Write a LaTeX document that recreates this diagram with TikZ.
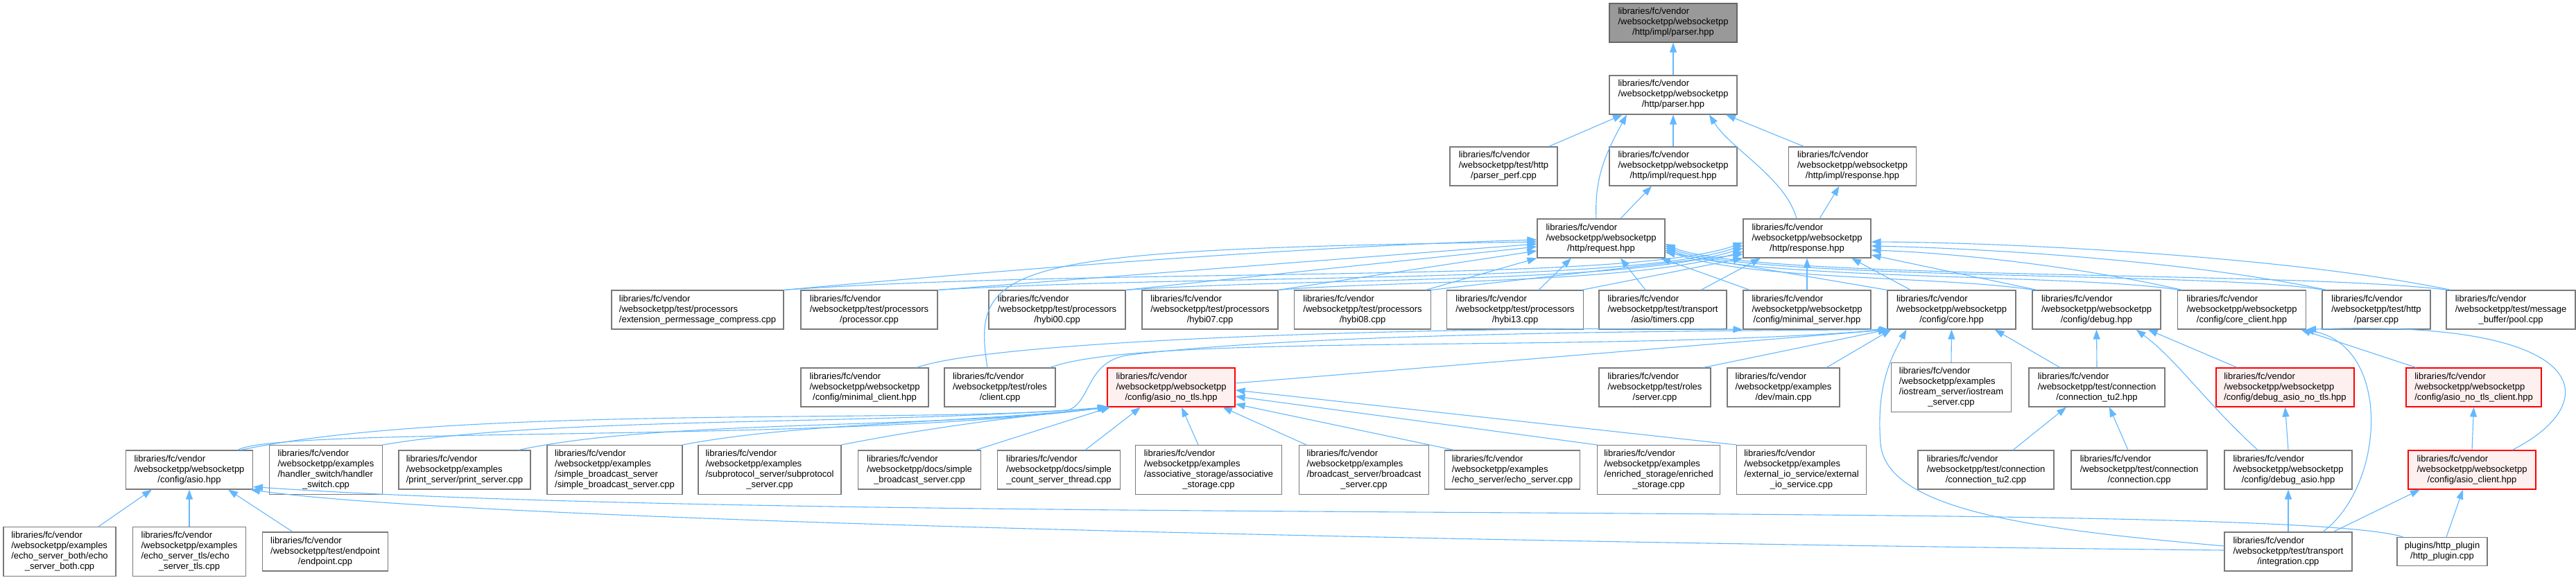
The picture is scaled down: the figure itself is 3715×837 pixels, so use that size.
\documentclass[tikz,border=0pt]{standalone}
\usepackage{fontspec}
\setmainfont{Liberation Sans}
\usetikzlibrary{arrows.meta}
\definecolor{edgeblue}{HTML}{63B8FF}
\definecolor{bordercol}{HTML}{7A7A7A}
\definecolor{rootgrey}{HTML}{999999}
\definecolor{pinkfill}{HTML}{FFF0F0}
\definecolor{redline}{HTML}{FF0000}
\newcommand{\FCV}{libraries/fc/vendor}
\newcommand{\lb}[2]{\begin{tabular}{@{}l@{}}#1\\\multicolumn{1}{@{}c@{}}{#2}\end{tabular}}
\tikzset{
  nd/.style={draw=bordercol, fill=white, line width=1.1pt, inner sep=0pt,
             font=\fontsize{13}{15}\selectfont},
  ltwo/.style={minimum height=41pt},
  lthree/.style={minimum height=56pt},
  lfour/.style={minimum height=71pt},
  rootnode/.style={fill=rootgrey, draw=black!60},
  rednode/.style={draw=redline, fill=pinkfill},
  dep/.style={draw=edgeblue, line width=1.1pt, -{Triangle[length=14pt,width=10pt]}}
}
\begin{document}
\begin{tikzpicture}[x=1pt,y=1pt]
\useasboundingbox (0,0) rectangle (3715,-837);
\fill[white] (0,0) rectangle (3715,-837);

% row 1-3
\node[nd,lthree,rootnode,minimum width=184pt] (root) at (2413,-33) {\lb{\FCV\\/websocketpp/websocketpp}{/http/impl/parser.hpp}};
\node[nd,lthree,minimum width=184pt] (parser) at (2413,-137) {\lb{\FCV\\/websocketpp/websocketpp}{/http/parser.hpp}};
\node[nd,lthree,minimum width=155pt] (perf) at (2168.5,-240) {\lb{\FCV\\/websocketpp/test/http}{/parser\_perf.cpp}};
\node[nd,lthree,minimum width=184pt] (ireq) at (2413,-240) {\lb{\FCV\\/websocketpp/websocketpp}{/http/impl/request.hpp}};
\node[nd,lthree,minimum width=184pt] (iresp) at (2671.5,-240) {\lb{\FCV\\/websocketpp/websocketpp}{/http/impl/response.hpp}};
\node[nd,lthree,minimum width=184pt] (req) at (2309,-344) {\lb{\FCV\\/websocketpp/websocketpp}{/http/request.hpp}};
\node[nd,lthree,minimum width=184pt] (resp) at (2606,-344) {\lb{\FCV\\/websocketpp/websocketpp}{/http/response.hpp}};

% row 4
\node[nd,lthree,minimum width=248pt] (ext) at (1006,-447) {\lb{\FCV\\/websocketpp/test/processors}{/extension\_permessage\_compress.cpp}};
\node[nd,lthree,minimum width=197pt] (proc) at (1253.5,-447) {\lb{\FCV\\/websocketpp/test/processors}{/processor.cpp}};
\node[nd,lthree,minimum width=197pt] (h00) at (1524.5,-447) {\lb{\FCV\\/websocketpp/test/processors}{/hybi00.cpp}};
\node[nd,lthree,minimum width=196pt] (h07) at (1745,-447) {\lb{\FCV\\/websocketpp/test/processors}{/hybi07.cpp}};
\node[nd,lthree,minimum width=197pt] (h08) at (1965,-447) {\lb{\FCV\\/websocketpp/test/processors}{/hybi08.cpp}};
\node[nd,lthree,minimum width=197pt] (h13) at (2185,-447) {\lb{\FCV\\/websocketpp/test/processors}{/hybi13.cpp}};
\node[nd,lthree,minimum width=184pt] (timers) at (2398,-447) {\lb{\FCV\\/websocketpp/test/transport}{/asio/timers.cpp}};
\node[nd,lthree,minimum width=184pt] (minsrv) at (2606,-447) {\lb{\FCV\\/websocketpp/websocketpp}{/config/minimal\_server.hpp}};
\node[nd,lthree,minimum width=185pt] (core) at (2814.5,-447) {\lb{\FCV\\/websocketpp/websocketpp}{/config/core.hpp}};
\node[nd,lthree,minimum width=185pt] (debug) at (3023.5,-447) {\lb{\FCV\\/websocketpp/websocketpp}{/config/debug.hpp}};
\node[nd,lthree,minimum width=185pt] (coreclient) at (3233,-447) {\lb{\FCV\\/websocketpp/websocketpp}{/config/core\_client.hpp}};
\node[nd,lthree,minimum width=156pt] (hparser) at (3427,-447) {\lb{\FCV\\/websocketpp/test/http}{/parser.cpp}};
\node[nd,lthree,minimum width=186pt] (pool) at (3621,-447) {\lb{\FCV\\/websocketpp/test/message}{\_buffer/pool.cpp}};

% row 5
\node[nd,lthree,minimum width=184pt] (minclient) at (1247,-559) {\lb{\FCV\\/websocketpp/websocketpp}{/config/minimal\_client.hpp}};
\node[nd,lthree,minimum width=160pt] (client) at (1442,-559) {\lb{\FCV\\/websocketpp/test/roles}{/client.cpp}};
\node[nd,lthree,rednode,minimum width=184pt] (asionotls) at (1689,-559) {\lb{\FCV\\/websocketpp/websocketpp}{/config/asio\_no\_tls.hpp}};
\node[nd,lthree,minimum width=161pt] (rserver) at (2386.5,-559) {\lb{\FCV\\/websocketpp/test/roles}{/server.cpp}};
\node[nd,lthree,minimum width=162pt] (devmain) at (2572,-559) {\lb{\FCV\\/websocketpp/examples}{/dev/main.cpp}};
\node[nd,lfour,minimum width=173pt] (iostream) at (2814,-559) {\lb{\FCV\\/websocketpp/examples\\/iostream\_server/iostream}{\_server.cpp}};
\node[nd,lthree,minimum width=196pt] (ctu2h) at (3024,-559) {\lb{\FCV\\/websocketpp/test/connection}{/connection\_tu2.hpp}};
\node[nd,lthree,rednode,minimum width=199pt] (dbgnotls) at (3295.5,-559) {\lb{\FCV\\/websocketpp/websocketpp}{/config/debug\_asio\_no\_tls.hpp}};
\node[nd,lthree,rednode,minimum width=195pt] (notlsclient) at (3567.5,-559) {\lb{\FCV\\/websocketpp/websocketpp}{/config/asio\_no\_tls\_client.hpp}};

% row 6
\node[nd,lthree,minimum width=183pt] (asio) at (273,-678) {\lb{\FCV\\/websocketpp/websocketpp}{/config/asio.hpp}};
\node[nd,lfour,minimum width=163pt] (hswitch) at (470,-678) {\lb{\FCV\\/websocketpp/examples\\/handler\_switch/handler}{\_switch.cpp}};
\node[nd,lthree,minimum width=190pt] (print) at (670,-678) {\lb{\FCV\\/websocketpp/examples}{/print\_server/print\_server.cpp}};
\node[nd,lfour,minimum width=195pt] (sbcast) at (886.5,-678) {\lb{\FCV\\/websocketpp/examples\\/simple\_broadcast\_server}{/simple\_broadcast\_server.cpp}};
\node[nd,lfour,minimum width=206pt] (subproto) at (1110,-678) {\lb{\FCV\\/websocketpp/examples\\/subprotocol\_server/subprotocol}{\_server.cpp}};
\node[nd,lthree,minimum width=177pt] (dsbcast) at (1326,-678) {\lb{\FCV\\/websocketpp/docs/simple}{\_broadcast\_server.cpp}};
\node[nd,lthree,minimum width=177pt] (dcount) at (1527,-678) {\lb{\FCV\\/websocketpp/docs/simple}{\_count\_server\_thread.cpp}};
\node[nd,lfour,minimum width=211pt] (assoc) at (1743,-678) {\lb{\FCV\\/websocketpp/examples\\/associative\_storage/associative}{\_storage.cpp}};
\node[nd,lfour,minimum width=187pt] (bcast) at (1967,-678) {\lb{\FCV\\/websocketpp/examples\\/broadcast\_server/broadcast}{\_server.cpp}};
\node[nd,lthree,minimum width=195pt] (echo) at (2181,-678) {\lb{\FCV\\/websocketpp/examples}{/echo\_server/echo\_server.cpp}};
\node[nd,lfour,minimum width=177pt] (enriched) at (2392,-678) {\lb{\FCV\\/websocketpp/examples\\/enriched\_storage/enriched}{\_storage.cpp}};
\node[nd,lfour,minimum width=187pt] (external) at (2598,-678) {\lb{\FCV\\/websocketpp/examples\\/external\_io\_service/external}{\_io\_service.cpp}};
\node[nd,lthree,minimum width=196pt] (ctu2cpp) at (2864,-678) {\lb{\FCV\\/websocketpp/test/connection}{/connection\_tu2.cpp}};
\node[nd,lthree,minimum width=196pt] (conncpp) at (3085,-678) {\lb{\FCV\\/websocketpp/test/connection}{/connection.cpp}};
\node[nd,lthree,minimum width=184pt] (dbgasio) at (3300,-678) {\lb{\FCV\\/websocketpp/websocketpp}{/config/debug\_asio.hpp}};
\node[nd,lthree,rednode,minimum width=184pt] (asioclient) at (3565,-678) {\lb{\FCV\\/websocketpp/websocketpp}{/config/asio\_client.hpp}};

% row 7
\node[nd,lfour,minimum width=162pt] (esboth) at (86,-796) {\lb{\FCV\\/websocketpp/examples\\/echo\_server\_both/echo}{\_server\_both.cpp}};
\node[nd,lfour,minimum width=163pt] (estls) at (273,-796) {\lb{\FCV\\/websocketpp/examples\\/echo\_server\_tls/echo}{\_server\_tls.cpp}};
\node[nd,lthree,minimum width=181pt] (endpoint) at (469,-796) {\lb{\FCV\\/websocketpp/test/endpoint}{/endpoint.cpp}};
\node[nd,lthree,minimum width=184pt] (integ) at (3300,-796) {\lb{\FCV\\/websocketpp/test/transport}{/integration.cpp}};
\node[nd,ltwo,minimum width=130pt] (plugin) at (3522,-796) {\lb{plugins/http\_plugin}{/http\_plugin.cpp}};

% ---- edges: top
\draw[dep] (parser.north) -- (root.south);
\draw[dep] ([xshift=65pt]perf.north) -- ([xshift=-73pt]parser.south);
\draw[dep] (ireq.north) -- (parser.south);
\draw[dep] ([xshift=-70pt]iresp.north) -- ([xshift=76pt]parser.south);
\draw[dep] ([xshift=-7pt]req.north) .. controls (2299,-255) and (2317,-219) .. ([xshift=-67pt]parser.south);
\draw[dep] ([xshift=-15pt]resp.north) .. controls (2575,-257) and (2496,-215) .. ([xshift=52pt]parser.south);
\draw[dep] ([xshift=28pt]req.north) -- ([xshift=-31pt]ireq.south);
\draw[dep] ([xshift=18pt]resp.north) -- ([xshift=-19pt]iresp.south);

% ---- into request.hpp
\draw[dep] (ext.north east) .. controls (1500,-385) and (1900,-355) .. ([yshift=-2pt]req.west);
\draw[dep] (proc.north east) -- ([yshift=-8pt]req.west);
\draw[dep] (h00.north east) -- ([yshift=-12pt]req.west);
\draw[dep] (h07.north east) -- ([yshift=-18pt]req.west);
\draw[dep] ([xshift=-8pt]h08.north east) -- (req.south west);
\draw[dep] ([xshift=34pt]h13.north) -- ([xshift=-43pt]req.south);
\draw[dep] ([xshift=-25pt]timers.north) -- ([xshift=28pt]req.south);
\draw[dep] ([xshift=10pt]minsrv.north west) -- ([xshift=86pt]req.south);
\draw[dep] (core.north west) -- ([yshift=-20pt]req.east);
\draw[dep] ([xshift=3pt]debug.north west) .. controls (2800,-398) and (2520,-405) .. ([yshift=-17pt]req.east);
\draw[dep] ([xshift=3pt]coreclient.north west) .. controls (3000,-395) and (2520,-405) .. ([yshift=-14pt]req.east);
\draw[dep] ([xshift=3pt]hparser.north west) .. controls (3200,-392) and (2520,-405) .. ([yshift=-11pt]req.east);
\draw[dep] ([xshift=3pt]pool.north west) .. controls (3300,-390) and (2520,-405) .. ([yshift=-8pt]req.east);
\draw[dep] ([xshift=-18pt]client.north) .. controls (1400,-380) and (1450,-360) .. ([yshift=-5pt]req.west);

% ---- into response.hpp
\draw[dep] (ext.north east) .. controls (1600,-385) and (2350,-410) .. ([yshift=-6pt]resp.west);
\draw[dep] (proc.north east) .. controls (1750,-395) and (2350,-410) .. ([yshift=-10pt]resp.west);
\draw[dep] (h00.north east) .. controls (1900,-400) and (2350,-410) .. ([yshift=-14pt]resp.west);
\draw[dep] (h07.north east) .. controls (2000,-405) and (2350,-410) .. ([yshift=-19pt]resp.west);
\draw[dep] (h08.north east) -- ([yshift=-23pt]resp.west);
\draw[dep] ([xshift=-3pt]h13.north east) -- (resp.south west);
\draw[dep] ([xshift=55pt]timers.north) -- ([xshift=-67pt]resp.south);
\draw[dep] (minsrv.north) -- (resp.south);
\draw[dep] ([xshift=34pt]core.north west) -- ([xshift=64pt]resp.south);
\draw[dep] ([xshift=7pt]debug.north west) -- ([yshift=-24pt]resp.east);
\draw[dep] ([xshift=7pt]coreclient.north west) .. controls (3000,-385) and (2820,-365) .. ([yshift=-17pt]resp.east);
\draw[dep] ([xshift=7pt]hparser.north west) .. controls (3150,-375) and (2850,-358) .. ([yshift=-11pt]resp.east);
\draw[dep] ([xshift=7pt]pool.north west) .. controls (3300,-370) and (2900,-350) .. ([yshift=-5pt]resp.east);

% ---- row 5 to row 4
\draw[dep] ([xshift=75pt]minclient.north) .. controls (1450,-485) and (2200,-470) .. (minsrv.south west);
\draw[dep] ([xshift=72pt]client.north) .. controls (1650,-480) and (2300,-510) .. ([xshift=2pt]core.south west);
\draw[dep] ([yshift=6pt]asionotls.east) -- ([xshift=4pt]core.south west);
\draw[dep] ([xshift=70pt]rserver.north) -- ([xshift=1pt]core.south west);
\draw[dep] ([xshift=62pt]devmain.north) -- ([xshift=6pt]core.south west);
\draw[dep] (iostream.north) -- (core.south);
\draw[dep] ([xshift=-53pt]ctu2h.north) -- ([xshift=62pt]core.south);
\draw[dep] (ctu2h.north) -- (debug.south);
\draw[dep] ([xshift=-69pt]dbgnotls.north) -- ([xshift=74pt]debug.south);
\draw[dep] ([xshift=-83pt]notlsclient.north) -- ([xshift=-8pt]coreclient.south east);

% ---- row 6 upward
\draw[dep] ([xshift=-44pt]dbgasio.north) .. controls (3180,-580) and (3140,-520) .. ([xshift=57pt]debug.south);
\draw[dep] (dbgasio.north) -- (dbgnotls.south);
\draw[dep] (asioclient.north) -- (notlsclient.south);
\draw[dep] ([xshift=58pt]asioclient.north) .. controls (3760,-580) and (3740,-460) .. (coreclient.south east);
\draw[dep] ([xshift=39pt]ctu2cpp.north) -- ([xshift=-44pt]ctu2h.south);
\draw[dep] ([xshift=-16pt]conncpp.north) -- ([xshift=18pt]ctu2h.south);

% ---- into asio_no_tls.hpp
\draw[dep] ([xshift=70pt]asio.north) .. controls (400,-615) and (1200,-640) .. (asionotls.south west);
\draw[dep] (hswitch.north east) .. controls (800,-600) and (1250,-615) .. ([xshift=1pt]asionotls.south west);
\draw[dep] ([xshift=78pt]print.north) .. controls (950,-605) and (1350,-620) .. ([xshift=2pt]asionotls.south west);
\draw[dep] (sbcast.north east) .. controls (1150,-610) and (1400,-610) .. ([xshift=3pt]asionotls.south west);
\draw[dep] (subproto.north east) .. controls (1350,-615) and (1480,-600) .. ([xshift=4pt]asionotls.south west);
\draw[dep] ([xshift=81pt]dsbcast.north) -- ([xshift=5pt]asionotls.south west);
\draw[dep] ([xshift=38pt]dcount.north) -- ([xshift=-44pt]asionotls.south);
\draw[dep] ([xshift=-15pt]assoc.north) -- ([xshift=15pt]asionotls.south);
\draw[dep] ([xshift=11pt]bcast.north west) -- ([xshift=74pt]asionotls.south);
\draw[dep] ([xshift=-84pt]echo.north) -- ([yshift=-24pt]asionotls.east);
\draw[dep] (enriched.north west) -- ([yshift=-13pt]asionotls.east);
\draw[dep] (external.north west) -- ([yshift=-4pt]asionotls.east);

% ---- asio.hpp to core.hpp
\draw[dep] ([xshift=74pt]asio.north) .. controls (650,-585) and (1300,-610) .. (1540,-592)
  .. controls (1575,-580) and (1565,-520) .. (1630,-512)
  .. controls (1900,-480) and (2400,-478) .. ([xshift=3pt]core.south west);

% ---- bottom row
\draw[dep] ([xshift=56pt]esboth.north) -- ([xshift=-54pt]asio.south);
\draw[dep] (estls.north) -- (asio.south);
\draw[dep] ([xshift=-47pt]endpoint.north) -- ([xshift=56pt]asio.south);
\draw[dep] ([yshift=2pt]integ.west) .. controls (2300,-785) and (700,-755) .. ([xshift=-4pt]asio.south east);
\draw[dep] ([xshift=9pt]plugin.north west) .. controls (3300,-720) and (1200,-760) .. ([yshift=4pt]asio.south east);
\draw[dep] ([yshift=8pt]integ.west) .. controls (2950,-765) and (2720,-740) .. (2712,-640)
  .. controls (2706,-560) and (2725,-520) .. ([xshift=28pt]core.south west);
\draw[dep] (integ.north) -- (dbgasio.south);
\draw[dep] ([xshift=50pt]integ.north) .. controls (3440,-700) and (3450,-500) .. ([xshift=-3pt]coreclient.south east);
\draw[dep] ([xshift=65pt]integ.north) -- ([xshift=-75pt]asioclient.south);
\draw[dep] ([xshift=6pt]plugin.north) -- ([xshift=-13pt]asioclient.south);
\end{tikzpicture}
\end{document}
